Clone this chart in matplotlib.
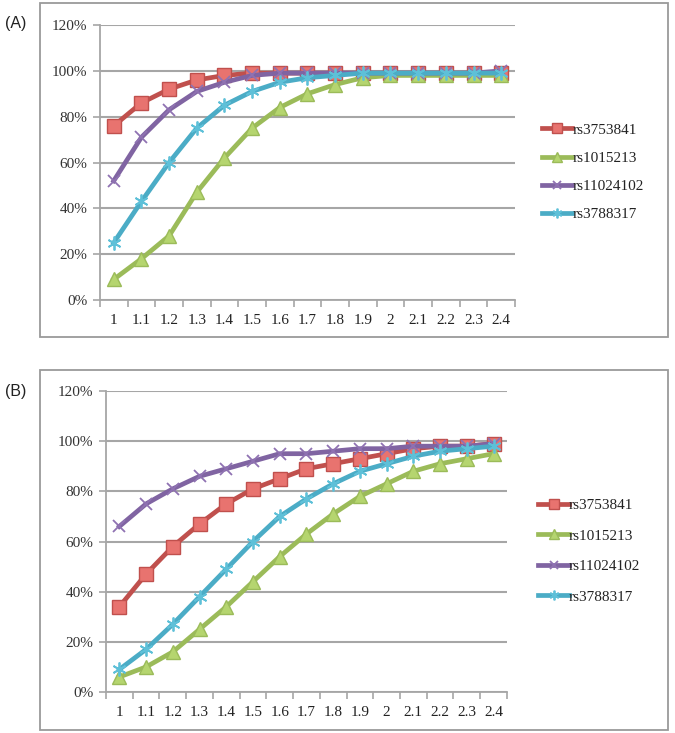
import matplotlib
matplotlib.use("Agg")
import matplotlib.pyplot as plt
from matplotlib.patches import Rectangle

categories = ["1", "1.1", "1.2", "1.3", "1.4", "1.5", "1.6", "1.7", "1.8", "1.9", "2", "2.1", "2.2", "2.3", "2.4"]
series_names = ["rs3753841", "rs1015213", "rs11024102", "rs3788317"]
y_ticks = [0, 20, 40, 60, 80, 100, 120]
y_tick_labels = ["0%", "20%", "40%", "60%", "80%", "100%", "120%"]

# Panel A (%)
a_rs3753841 = [76, 86, 92, 96, 98, 99, 99, 99, 99, 99, 99, 99, 99, 99, 99]
a_rs1015213 = [9, 18, 28, 47, 62, 75, 84, 90, 94, 97, 98, 98, 98, 98, 98]
a_rs11024102 = [52, 71, 83, 91, 95, 98, 99, 99, 99, 99, 99, 99, 99, 99, 100]
a_rs3788317 = [25, 43, 60, 75, 85, 91, 95, 97, 98, 99, 99, 99, 99, 99, 99]

# Panel B (%)
b_rs3753841 = [34, 47, 58, 67, 75, 81, 85, 89, 91, 93, 95, 97, 98, 98, 99]
b_rs1015213 = [6, 10, 16, 25, 34, 44, 54, 63, 71, 78, 83, 88, 91, 93, 95]
b_rs11024102 = [66, 75, 81, 86, 89, 92, 95, 95, 96, 97, 97, 98, 98, 98, 99]
b_rs3788317 = [9, 17, 27, 38, 49, 60, 70, 77, 83, 88, 91, 94, 96, 97, 98]

line_colors = ["#C0504D", "#9BBB59", "#8064A2", "#4BACC6"]
face_colors = ["#E8736F", "#B5D56F", "#8F72B2", "#5EC0D8"]
markers = ["s", "^", "x", (6, 2, 0)]
msizes = [10, 10, 9, 10]

serif = ["Liberation Serif", "DejaVu Serif"]
sans = ["Liberation Sans", "DejaVu Sans"]
grid_color = "#A6A6A6"

fig = plt.figure(figsize=(6.75, 7.33), dpi=100)

# panel boxes
for (x0, y0, w, h) in [(0.0593, 0.5402, 0.930, 0.4557), (0.0593, 0.004, 0.930, 0.491)]:
    fig.patches.append(Rectangle((x0, y0), w, h, transform=fig.transFigure,
                                 fill=False, edgecolor="#9A9A9A", linewidth=1.3))

fig.text(0.008, 0.968, "(A)", family=sans, fontsize=11.5, va="center", ha="left", color="#222222")
fig.text(0.008, 0.466, "(B)", family=sans, fontsize=11.5, va="center", ha="left", color="#222222")


def draw_panel(rect, data, legend_anchor, spacing):
    ax = fig.add_axes(rect)
    x = list(range(len(categories)))
    handles = []
    for vals, name, lc, fc, mk, ms in zip(data, series_names, line_colors, face_colors, markers, msizes):
        if mk == "x" or isinstance(mk, tuple):
            h, = ax.plot(x, vals, color=lc, lw=3.4, marker=mk, markersize=ms,
                         markeredgecolor=fc, markeredgewidth=1.3, label=name, zorder=3)
        else:
            h, = ax.plot(x, vals, color=lc, lw=3.4, marker=mk, markersize=ms,
                         markerfacecolor=fc, markeredgecolor=lc, markeredgewidth=1.0,
                         label=name, zorder=3)
        handles.append(h)
    ax.set_xlim(-0.5, len(categories) - 0.5)
    ax.set_ylim(0, 120)
    ax.set_yticks(y_ticks)
    ax.set_yticklabels(y_tick_labels, family=serif, fontsize=11, color="#333333")
    ax.set_xticks(x)
    ax.set_xticklabels(categories, family=serif, fontsize=11, color="#222222")
    ax.set_xticks([i - 0.5 for i in range(len(categories) + 1)], minor=True)
    ax.tick_params(axis="x", which="major", length=0, pad=10)
    ax.tick_params(axis="x", which="minor", length=5, color=grid_color, width=1.2, direction="out")
    ax.tick_params(axis="y", which="major", length=5, color=grid_color, width=1.2, pad=4)
    ax.grid(axis="y", color=grid_color, lw=1.5)
    ax.set_axisbelow(True)
    for s in ["top", "right"]:
        ax.spines[s].set_visible(False)
    for s in ["left", "bottom"]:
        ax.spines[s].set_color(grid_color)
        ax.spines[s].set_linewidth(1.3)
    leg = ax.legend(handles=handles, loc="center left", bbox_to_anchor=legend_anchor,
                    bbox_transform=fig.transFigure, frameon=False,
                    prop={"family": serif, "size": 11}, handlelength=2.0,
                    handletextpad=0.0, labelspacing=spacing, markerscale=0.7)
    for t in leg.get_texts():
        t.set_color("#222222")
    return ax


draw_panel([0.148, 0.5907, 0.615, 0.3752],
           [a_rs3753841, a_rs1015213, a_rs11024102, a_rs3788317], (0.782, 0.765), 0.95)
draw_panel([0.157, 0.0559, 0.594, 0.4107],
           [b_rs3753841, b_rs1015213, b_rs11024102, b_rs3788317], (0.777, 0.248), 1.1)

fig.savefig("out.png", dpi=100)
